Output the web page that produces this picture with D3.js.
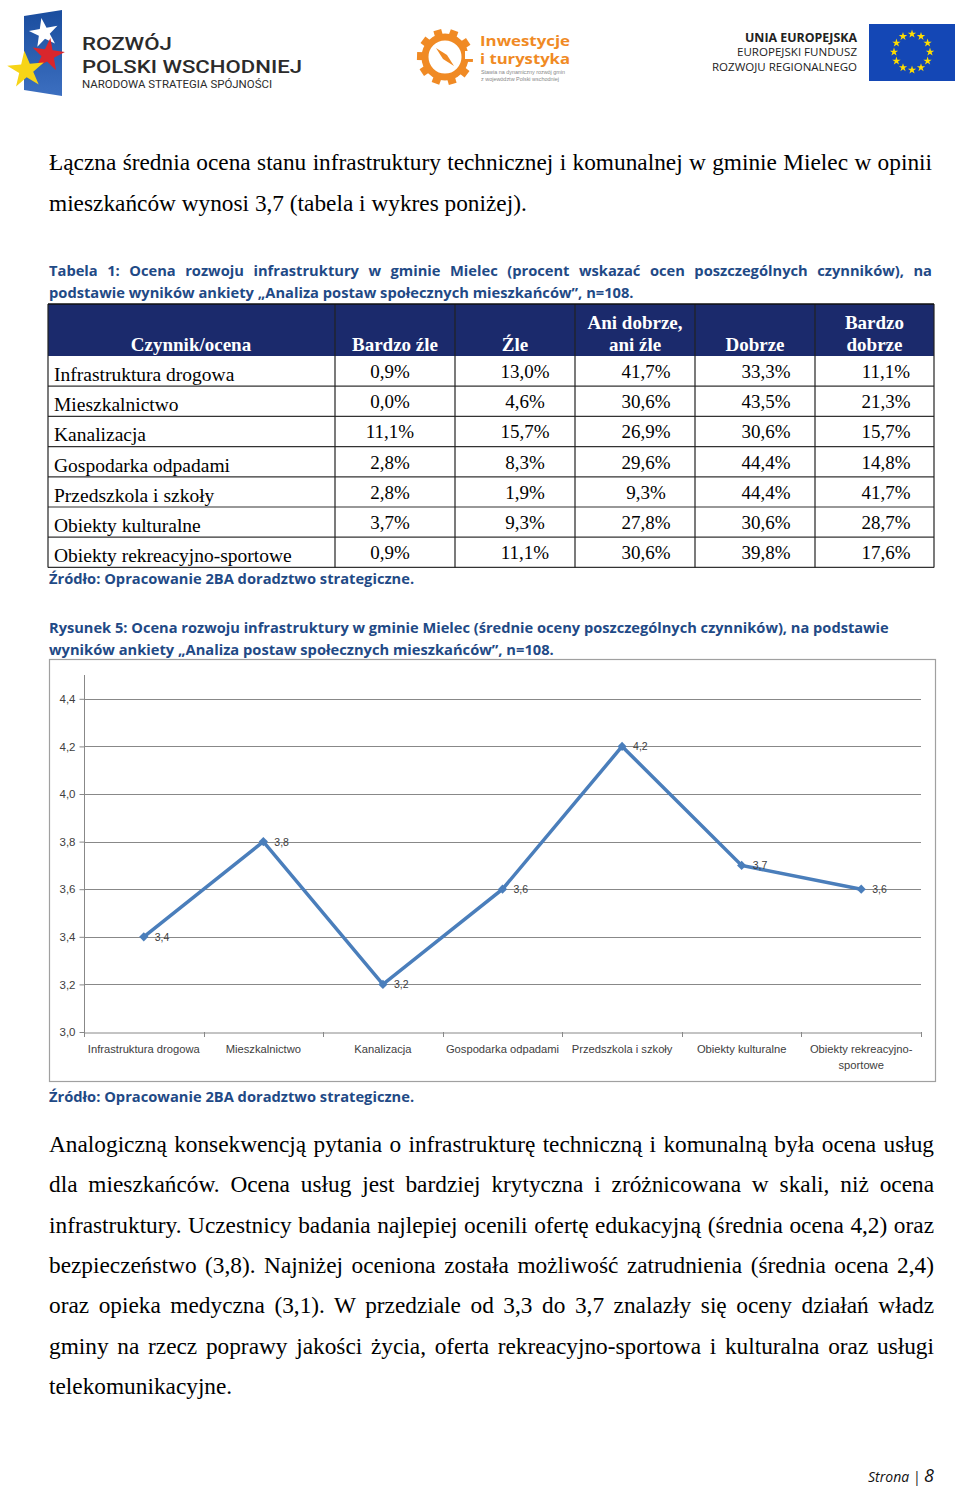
<!DOCTYPE html>
<html><head><meta charset="utf-8">
<script src="https://cdn.jsdelivr.net/npm/d3@7"></script>
<style>body{margin:0;background:#fff}svg{display:block}</style>
</head><body><svg id="page" width="960" height="1488"></svg>
<script>
// ---------- DATA ----------
const categories = ["Infrastruktura drogowa","Mieszkalnictwo","Kanalizacja","Gospodarka odpadami","Przedszkola i szkoły","Obiekty kulturalne","Obiekty rekreacyjno-sportowe"];
const means = [3.4, 3.8, 3.2, 3.6, 4.2, 3.7, 3.6];
const yTicks = [3.0, 3.2, 3.4, 3.6, 3.8, 4.0, 4.2, 4.4];
const ratingHeaders = [["Bardzo źle"],["Źle"],["Ani dobrze,","ani źle"],["Dobrze"],["Bardzo","dobrze"]];
const bardzoZle    = [0.9, 0.0, 11.1, 2.8, 2.8, 3.7, 0.9];
const zle          = [13.0, 4.6, 15.7, 8.3, 1.9, 9.3, 11.1];
const aniDobrzeAni = [41.7, 30.6, 26.9, 29.6, 9.3, 27.8, 30.6];
const dobrze       = [33.3, 43.5, 30.6, 44.4, 44.4, 30.6, 39.8];
const bardzoDobrze = [11.1, 21.3, 15.7, 14.8, 41.7, 28.7, 17.6];

const para1 = ["Łączna średnia ocena stanu infrastruktury technicznej i komunalnej w gminie Mielec w opinii",
               "mieszkańców wynosi 3,7 (tabela i wykres poniżej)."];
const para2 = ["Analogiczną konsekwencją pytania o infrastrukturę techniczną i komunalną była ocena usług",
  "dla mieszkańców. Ocena usług jest bardziej krytyczna i zróżnicowana w skali, niż ocena",
  "infrastruktury. Uczestnicy badania najlepiej ocenili ofertę edukacyjną (średnia ocena 4,2) oraz",
  "bezpieczeństwo (3,8). Najniżej oceniona została możliwość zatrudnienia (średnia ocena 2,4)",
  "oraz opieka medyczna (3,1). W przedziale od 3,3 do 3,7 znalazły się oceny działań władz",
  "gminy na rzecz poprawy jakości życia, oferta rekreacyjno-sportowa i kulturalna oraz usługi",
  "telekomunikacyjne."];
const tableCaption = ["Tabela 1: Ocena rozwoju infrastruktury w gminie Mielec (procent wskazać ocen poszczególnych czynników), na",
  "podstawie wyników ankiety „Analiza postaw społecznych mieszkańców”, n=108."];
const figCaption = ["Rysunek 5: Ocena rozwoju infrastruktury w gminie Mielec (średnie oceny poszczególnych czynników), na podstawie",
  "wyników ankiety „Analiza postaw społecznych mieszkańców”, n=108."];
const sourceText = "Źródło: Opracowanie 2BA doradztwo strategiczne.";

// ---------- HELPERS ----------
const svg = d3.select("#page");
svg.append("rect").attr("width",960).attr("height",1488).attr("fill","#fff");
const SERIF = "'Liberation Serif','Times New Roman',serif";
const SANS = "'Open Sans','Liberation Sans',Arial,sans-serif";
const ARIAL = "'Liberation Sans',Arial,sans-serif";
const ROBOTO = "Roboto,'Liberation Sans',Arial,sans-serif";

function txt(p, s, x, y, o={}) {
  const t = p.append("text").attr("x",x).attr("y",y).text(s)
    .attr("font-family", o.family||SERIF).attr("font-size", o.size||12)
    .attr("font-weight", o.weight||"normal").attr("font-style", o.style||"normal")
    .attr("fill", o.fill||"#000").attr("text-anchor", o.anchor||"start");
  if (o.width) {
    const w = t.node().getComputedTextLength();
    t.attr("font-size", (o.size||12)*o.width/w);
  }
  if (o.squeeze) {
    t.attr("textLength", o.squeeze).attr("lengthAdjust","spacingAndGlyphs");
  }
  if (o.justify) {
    const w = t.node().getComputedTextLength();
    const n = (s.match(/ /g)||[]).length;
    if (n) t.attr("word-spacing", (o.justify - w)/n);
  }
  return t;
}
function measure(s, family, size, weight="normal") {
  const t = svg.append("text").text(s).attr("font-family",family).attr("font-size",size).attr("font-weight",weight);
  const w = t.node().getComputedTextLength(); t.remove(); return w;
}

// ---------- HEADER LOGOS ----------
const hdr = svg.append("g");
const g1 = hdr.append("g");
const grad = svg.append("defs").append("linearGradient").attr("id","bl").attr("x1",0).attr("y1",0).attr("x2",0).attr("y2",1);
grad.append("stop").attr("offset","0").attr("stop-color","#1a4d9e");
grad.append("stop").attr("offset","1").attr("stop-color","#3c6fc0");
g1.append("path").attr("d","M24,16 L62,10 L62,96 L24,90 Z").attr("fill","url(#bl)");
const star = d3.symbol().type(d3.symbolStar);
g1.append("path").attr("d",star.size(260)()).attr("transform","translate(44,33) rotate(-10)").attr("fill","#fff");
g1.append("path").attr("d",star.size(330)()).attr("transform","translate(48,55) rotate(8)").attr("fill","#d9262c");
g1.append("path").attr("d",star.size(420)()).attr("transform","translate(26,70) rotate(-5)").attr("fill","#f7d417");
txt(g1,"ROZWÓJ",82,50,{family:ROBOTO,size:18.5,weight:500,fill:"#2b2b2b",squeeze:90});
txt(g1,"POLSKI WSCHODNIEJ",82,72.5,{family:ROBOTO,size:18.5,weight:500,fill:"#2b2b2b",squeeze:220});
txt(g1,"NARODOWA STRATEGIA SPÓJNOŚCI",82,88,{family:ROBOTO,size:10,fill:"#2b2b2b",squeeze:190});
const g2 = hdr.append("g").attr("transform","translate(445,57)");
g2.selectAll("rect.tooth").data(d3.range(10)).join("rect")
  .attr("x",-4).attr("y",-28).attr("width",8).attr("height",8).attr("fill","#f08a24")
  .attr("transform",d=>`rotate(${d*36+20})`);
g2.append("circle").attr("r",20).attr("fill","none").attr("stroke","#f08a24").attr("stroke-width",7);
g2.append("path").attr("d","M-9,-9 L2,-2 L9,9 L-2,2 Z").attr("fill","#f08a24");
g2.append("rect").attr("x",20).attr("y",-6).attr("width",10).attr("height",8).attr("fill","#fff");
txt(hdr,"Inwestycje",480,46,{family:SANS,size:15,weight:700,fill:"#f08a24",squeeze:90});
txt(hdr,"i turystyka",480,64,{family:SANS,size:15,weight:700,fill:"#f08a24",squeeze:90});
txt(hdr,"Stawia na dynamiczny rozwój gmin",481,74,{family:ARIAL,size:5,fill:"#888",squeeze:84});
txt(hdr,"z województw Polski wschodniej",481,81,{family:ARIAL,size:5,fill:"#888",squeeze:78});
txt(hdr,"UNIA EUROPEJSKA",857,42,{family:SANS,size:11.5,weight:700,fill:"#222",anchor:"end",squeeze:112});
txt(hdr,"EUROPEJSKI FUNDUSZ",857,56,{family:SANS,size:11.5,fill:"#222",anchor:"end",squeeze:120});
txt(hdr,"ROZWOJU REGIONALNEGO",857,71,{family:SANS,size:11.5,fill:"#222",anchor:"end",squeeze:145});
hdr.append("rect").attr("x",869).attr("y",24).attr("width",86).attr("height",57).attr("fill","#1447b5");
hdr.selectAll("path.eu").data(d3.range(12)).join("path")
  .attr("d",star.size(22)())
  .attr("transform",d=>`translate(${912+18*Math.cos(d*Math.PI/6)},${52+18*Math.sin(d*Math.PI/6)})`)
  .attr("fill","#ffdd00");

// ---------- BODY TEXT ----------
const bodySize = 20 * 478 / measure(para1[1], SERIF, 20);
txt(svg, para1[0], 49, 170, {size:bodySize, justify:883});
txt(svg, para1[1], 49, 211, {size:bodySize});
const capColor = "#1f4a86";
const capSize = 15 * 585 / measure(tableCaption[1], SANS, 15, 700);
txt(svg, tableCaption[0], 49, 276, {family:SANS,size:capSize,weight:700,fill:capColor,justify:883});
txt(svg, tableCaption[1], 49, 298, {family:SANS,size:capSize,weight:700,fill:capColor});
txt(svg, sourceText, 49, 584, {family:SANS,size:capSize,weight:700,fill:capColor});
txt(svg, figCaption[0], 49, 633, {family:SANS,size:capSize,weight:700,fill:capColor,width:840});
txt(svg, figCaption[1], 49, 655, {family:SANS,size:capSize,weight:700,fill:capColor,width:505});
txt(svg, sourceText, 49, 1102, {family:SANS,size:capSize,weight:700,fill:capColor});
para2.forEach((l,i)=>{
  txt(svg, l, 49, 1152 + i*40.3, i<para2.length-1 ? {size:bodySize, justify:885} : {size:bodySize});
});
const ft = svg.append("text").attr("x",934).attr("y",1482).attr("text-anchor","end")
  .attr("font-family",SANS).attr("font-style","italic").attr("fill","#111");
ft.append("tspan").attr("font-size",14).text("Strona | ");
ft.append("tspan").attr("font-size",18).text("8");

// ---------- TABLE ----------
const tbl = svg.append("g");
const colEdges = [48, 335, 455, 575, 695, 815, 934];
const headTop = 304, headBot = 356, rowH = 30.2;
const valueCols = [bardzoZle, zle, aniDobrzeAni, dobrze, bardzoDobrze];
const tableBottom = headBot + rowH*categories.length;
tbl.append("rect").attr("x",48).attr("y",headTop).attr("width",886).attr("height",headBot-headTop).attr("fill","#1b2a6c");
categories.forEach((c,i)=>{
  tbl.append("line").attr("x1",48).attr("x2",934).attr("y1",headBot+rowH*(i+1)).attr("y2",headBot+rowH*(i+1))
    .attr("stroke","#333").attr("stroke-width",1.2);
});
colEdges.forEach((x,i)=>{
  tbl.append("line").attr("x1",x).attr("x2",x).attr("y1",headTop).attr("y2",tableBottom)
    .attr("stroke", "#222").attr("stroke-width",1.2);
});
tbl.append("line").attr("x1",48).attr("x2",934).attr("y1",headTop).attr("y2",headTop).attr("stroke","#111").attr("stroke-width",1.5);
txt(tbl,"Czynnik/ocena",191,351,{size:19,weight:700,fill:"#fff",anchor:"middle"});
ratingHeaders.forEach((h,i)=>{
  const cx = (colEdges[i+1]+colEdges[i+2])/2;
  h.forEach((line,j)=>txt(tbl,line,cx,351-(h.length-1-j)*22,{size:19,weight:700,fill:"#fff",anchor:"middle"}));
});
const fmtPct = v => d3.format(".1f")(v).replace(".",",") + "%";
const valCenters = [390, 525, 646, 766, 886];
categories.forEach((c,i)=>{
  const y = headBot + rowH*i + 25;
  txt(tbl,c,54,y,{size:19.5});
  valueCols.forEach((col,k)=>txt(tbl,fmtPct(col[i]),valCenters[k],y-3,{size:19,anchor:"middle"}));
});

// ---------- CHART ----------
const ch = svg.append("g");
ch.append("rect").attr("x",49.5).attr("y",659.5).attr("width",886).attr("height",422).attr("fill","#fff").attr("stroke","#a0a0a0").attr("stroke-width",1.2);
const x = d3.scaleBand().domain(categories).range([84, 921]);
const y = d3.scaleLinear().domain([3.0, 4.5]).range([1032, 675]);
const fmt = v => d3.format(".1f")(v).replace(".",",");
ch.append("g").selectAll("line").data(yTicks.slice(1)).join("line")
  .attr("x1",84).attr("x2",921).attr("y1",d=>Math.round(y(d))+0.5).attr("y2",d=>Math.round(y(d))+0.5)
  .attr("stroke","#888").attr("stroke-width",1);
const ya = ch.append("g").attr("transform","translate(84.5,0)")
  .call(d3.axisLeft(y).tickValues(yTicks).tickFormat(fmt).tickSize(5).tickPadding(4));
ya.select(".domain").attr("stroke","#888").attr("d","M0,675V1032");
ya.selectAll(".tick line").attr("stroke","#888");
ya.selectAll("text").attr("font-family",ARIAL).attr("font-size",11.5).attr("fill","#404040");
const xa = ch.append("g").attr("transform","translate(0,1032.5)")
  .call(d3.axisBottom(x).tickSize(0).tickPadding(10));
xa.select(".domain").attr("stroke","#888");
xa.selectAll("text").attr("font-family",ARIAL).attr("font-size",11.2).attr("fill","#404040").attr("dy","0.9em")
  .each(function(d){
    const parts = d.includes("-") ? [d.slice(0,d.indexOf("-")+1), d.slice(d.indexOf("-")+1)] : [d];
    const t = d3.select(this).text(null);
    parts.forEach((p,i)=>t.append("tspan").attr("x",0).attr("dy", i===0? "0.9em" : "1.45em").text(p));
  });
const edges = categories.map(c=>x(c)).concat([x.range()[1]]);
ch.append("g").selectAll("line").data(edges).join("line")
  .attr("x1",d=>Math.round(d)+0.5).attr("x2",d=>Math.round(d)+0.5).attr("y1",1032).attr("y2",1037).attr("stroke","#888");
const line = d3.line().x((d,i)=>x(categories[i])+x.bandwidth()/2).y(d=>y(d));
ch.append("path").datum(means).attr("d",line).attr("fill","none").attr("stroke","#4a7ebb").attr("stroke-width",3.5).attr("stroke-linejoin","miter");
ch.append("g").selectAll("path").data(means).join("path")
  .attr("d", d3.symbol().type(d3.symbolSquare).size(42)())
  .attr("transform",(d,i)=>`translate(${x(categories[i])+x.bandwidth()/2},${y(d)}) rotate(45)`)
  .attr("fill","#4a7ebb");
ch.append("g").selectAll("text").data(means).join("text")
  .attr("x",(d,i)=>x(categories[i])+x.bandwidth()/2+11).attr("y",d=>y(d)+4)
  .attr("font-family",ARIAL).attr("font-size",10.5).attr("fill","#404040").text(fmt);
</script>
</body></html>
